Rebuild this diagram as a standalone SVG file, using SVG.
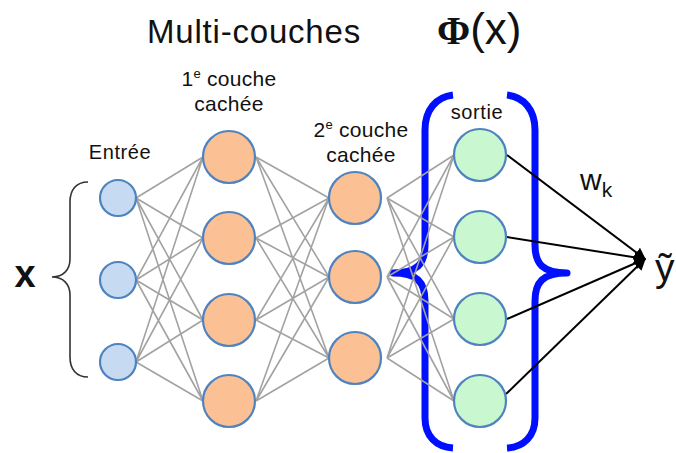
<svg xmlns="http://www.w3.org/2000/svg" width="676" height="453" viewBox="0 0 676 453">
  <defs>
    <style>
      .lbl { font-family: "Liberation Sans", Arial, sans-serif; fill: #111; }
      .in  { fill: #c6daf1; stroke: #4f83bf; stroke-width: 2.2; }
      .hid { fill: #fbc194; stroke: #4f83bf; stroke-width: 2.2; }
      .out { fill: #c8f7d0; stroke: #4f83bf; stroke-width: 2.2; }
      .w   { stroke: #a2a2a2; stroke-width: 1.6; fill: none; }
      .o   { stroke: #000; stroke-width: 2; fill: none; marker-end: url(#tip); }
      .bb  { stroke: #0010ff; stroke-width: 7; fill: none; stroke-linejoin: round; }
    </style>
    <marker id="tip" viewBox="0 0 10 10" refX="9" refY="5" markerWidth="6" markerHeight="6" orient="auto" markerUnits="strokeWidth">
      <path d="M0,0 L10,5 L0,10 Z" fill="#000"/>
    </marker>
  </defs>
  <rect width="676" height="453" fill="#fff"/>

  <!-- titles -->
  <text class="lbl" x="147" y="43" font-size="33" letter-spacing="0.8">Multi-couches</text>
  <text class="lbl" x="437" y="44"><tspan font-family="'Liberation Serif', 'Times New Roman', serif" font-size="40" font-weight="bold">Φ</tspan><tspan font-size="44">(x)</tspan></text>

  <!-- layer labels -->
  <text class="lbl" x="120" y="159" font-size="20" letter-spacing="0.6" text-anchor="middle">Entrée</text>
  <text class="lbl" x="229" y="86" font-size="21" letter-spacing="0.3" text-anchor="middle">1<tspan font-size="13" dy="-8">e</tspan><tspan dy="8"> couche</tspan></text>
  <text class="lbl" x="229" y="111" font-size="21" letter-spacing="0.3" text-anchor="middle">cachée</text>
  <text class="lbl" x="361" y="137" font-size="21" letter-spacing="0.3" text-anchor="middle">2<tspan font-size="13" dy="-8">e</tspan><tspan dy="8"> couche</tspan></text>
  <text class="lbl" x="361" y="162" font-size="21" letter-spacing="0.3" text-anchor="middle">cachée</text>
  <text class="lbl" x="477" y="119" font-size="20" letter-spacing="0.6" text-anchor="middle">sortie</text>

  <!-- input vector brace and symbol -->
  <path d="M88,182 C76,182 70,190 70,202 L70,259 C70,270 63,277 52,277 C63,277 70,284 70,295 L70,357 C70,369 76,377 88,377" fill="none" stroke="#333" stroke-width="1.6"/>
  <text class="lbl" x="25" y="287" font-size="38" font-weight="bold" text-anchor="middle">x</text>

  <!-- output layer braces -->
  <path class="bb" d="M453,95 C436,97 425,110 425,130 L425,245 C425,264 417,273 393,273 C417,273 425,282 425,301 L425,418 C425,436 436,447 453,448"/>
  <path class="bb" d="M507,95 C524,97 535,110 535,130 L535,245 C535,264 543,273 567,273 C543,273 535,282 535,301 L535,418 C535,436 524,447 507,448"/>

  <!-- weight label and prediction -->
  <text class="lbl" x="580" y="190" font-size="30">w<tspan font-size="21" dy="7">k</tspan></text>
  <text class="lbl" x="655" y="281" font-size="39">ỹ</text>

  <g id="connectors">
    <!-- input to hidden 1 -->
    <path class="w" d="M136,198 L203,157 M136,198 L203,238 M136,198 L203,320 M136,198 L203,401
                       M136,280 L203,157 M136,280 L203,238 M136,280 L203,320 M136,280 L203,401
                       M136,362 L203,157 M136,362 L203,238 M136,362 L203,320 M136,362 L203,401"/>
    <!-- hidden 1 to hidden 2 -->
    <path class="w" d="M256,157 L329,198 M256,157 L329,277 M256,157 L329,358
                       M256,238 L329,198 M256,238 L329,277 M256,238 L329,358
                       M256,320 L329,198 M256,320 L329,277 M256,320 L329,358
                       M256,401 L329,198 M256,401 L329,277 M256,401 L329,358"/>
    <!-- hidden 2 to output -->
    <path class="w" d="M387,198 L454,155 M387,198 L454,237 M387,198 L454,319 M387,198 L454,401
                       M387,277 L454,155 M387,277 L454,237 M387,277 L454,319 M387,277 L454,401
                       M387,358 L454,155 M387,358 L454,237 M387,358 L454,319 M387,358 L454,401"/>
    <!-- output weights to prediction -->
    <line class="o" x1="507" y1="155" x2="645" y2="259"/>
    <line class="o" x1="507" y1="237" x2="645" y2="259"/>
    <line class="o" x1="507" y1="319" x2="645" y2="259"/>
    <line class="o" x1="506" y1="394" x2="645" y2="259"/>
  </g>

  <g id="in1"><circle class="in" cx="118" cy="198" r="18"/></g>
  <g id="in2"><circle class="in" cx="118" cy="280" r="18"/></g>
  <g id="in3"><circle class="in" cx="118" cy="362" r="18"/></g>

  <g id="h1a"><circle class="hid" cx="229" cy="157" r="26"/></g>
  <g id="h1b"><circle class="hid" cx="229" cy="238" r="26"/></g>
  <g id="h1c"><circle class="hid" cx="229" cy="320" r="26"/></g>
  <g id="h1d"><circle class="hid" cx="229" cy="401" r="26"/></g>

  <g id="h2a"><circle class="hid" cx="355" cy="198" r="26"/></g>
  <g id="h2b"><circle class="hid" cx="355" cy="277" r="26"/></g>
  <g id="h2c"><circle class="hid" cx="355" cy="358" r="26"/></g>

  <g id="out1"><circle class="out" cx="480" cy="155" r="26"/></g>
  <g id="out2"><circle class="out" cx="480" cy="237" r="26"/></g>
  <g id="out3"><circle class="out" cx="480" cy="319" r="26"/></g>
  <g id="out4"><circle class="out" cx="480" cy="401" r="26"/></g>
</svg>
